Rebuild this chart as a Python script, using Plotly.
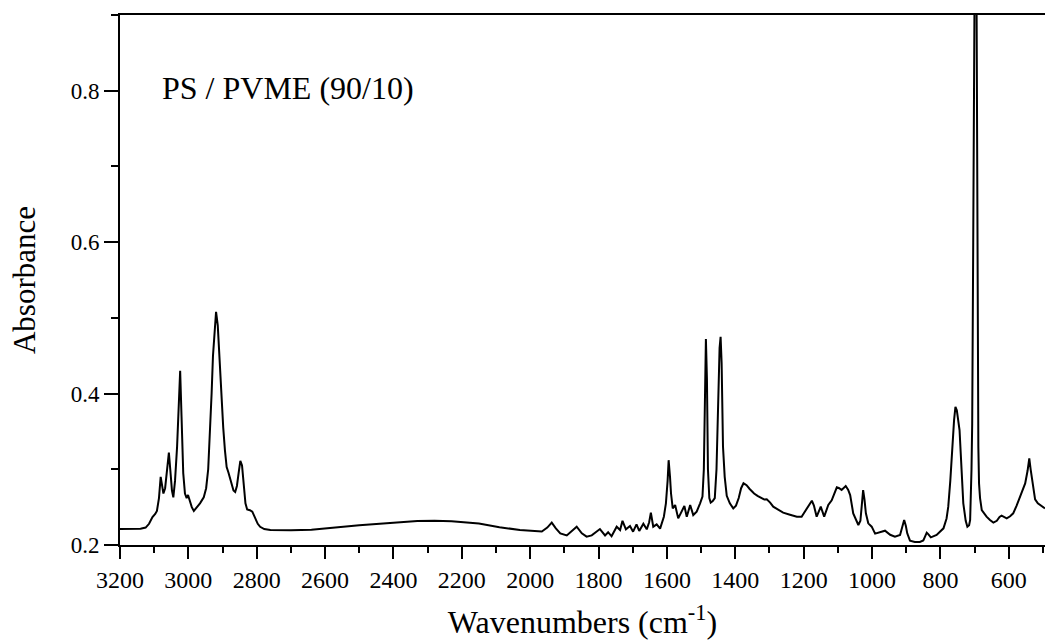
import plotly.graph_objects as go

# FTIR spectrum of a PS / PVME (90/10) blend
wavenumber = [
    3200, 3170, 3140, 3125, 3115, 3105, 3097, 3092, 3086, 3081,
    3077, 3073, 3068, 3062, 3057, 3053, 3048, 3044, 3039, 3033,
    3028, 3024, 3020, 3015, 3010, 3005, 3001, 2997, 2990, 2984,
    2975, 2966, 2955, 2948, 2942, 2937, 2932, 2928, 2923, 2919,
    2914, 2908, 2903, 2898, 2893, 2888, 2883, 2876, 2868, 2863,
    2858, 2853, 2848, 2843, 2838, 2833, 2828, 2820, 2813, 2805,
    2797, 2790, 2778, 2760, 2700, 2640, 2600, 2500, 2400, 2330,
    2280, 2230, 2150, 2090, 2030, 1990, 1966, 1950, 1937, 1925,
    1912, 1893, 1878, 1864, 1849, 1835, 1820, 1808, 1796, 1781,
    1772, 1762, 1747, 1737, 1730, 1720, 1708, 1699, 1689, 1681,
    1669, 1659, 1652, 1647, 1640, 1630, 1620, 1609, 1603, 1598,
    1595, 1591, 1588, 1583, 1576, 1567, 1557, 1549, 1542, 1532,
    1523, 1513, 1503, 1496, 1492, 1489, 1486, 1483, 1480, 1476,
    1472, 1466, 1460, 1455, 1450, 1446, 1443, 1440, 1436, 1431,
    1425, 1416, 1406, 1398, 1390, 1383, 1376, 1367, 1358, 1345,
    1335, 1325, 1315, 1308, 1298, 1289, 1275, 1260, 1240, 1220,
    1206, 1191, 1180, 1176, 1170, 1162, 1150, 1140, 1128, 1118,
    1103, 1096, 1089, 1077, 1070, 1064, 1055, 1045, 1040, 1034,
    1030, 1026, 1022, 1018, 1011, 1001, 991, 977, 962, 947,
    933, 918, 912, 906, 901, 897, 889, 875, 860, 850,
    845, 840, 835, 828, 811, 791, 782, 777, 771, 767,
    760, 756, 752, 744, 738, 733, 726, 721, 716, 713,
    709, 707, 704, 700, 697, 694, 691, 689, 687, 684,
    679, 672, 665, 655, 645, 635, 627, 621, 612, 606,
    596, 587, 577, 567, 558, 552, 545, 540, 536, 530,
    523, 515, 509, 494,
]
absorbance = [
    0.2210, 0.2212, 0.2215, 0.2230, 0.2280, 0.2370, 0.2410, 0.2450, 0.2620, 0.2900,
    0.2780, 0.2680, 0.2750, 0.3000, 0.3220, 0.3000, 0.2720, 0.2630, 0.2850, 0.3300,
    0.3850, 0.4300, 0.3700, 0.2950, 0.2680, 0.2620, 0.2660, 0.2600, 0.2500, 0.2450,
    0.2500, 0.2550, 0.2630, 0.2750, 0.3000, 0.3450, 0.4000, 0.4500, 0.4900, 0.5080,
    0.4900, 0.4350, 0.3900, 0.3550, 0.3250, 0.3030, 0.2960, 0.2850, 0.2720, 0.2700,
    0.2780, 0.2950, 0.3110, 0.3050, 0.2800, 0.2550, 0.2470, 0.2460, 0.2440, 0.2350,
    0.2280, 0.2240, 0.2210, 0.2198, 0.2195, 0.2203, 0.2220, 0.2260, 0.2295, 0.2318,
    0.2320, 0.2315, 0.2285, 0.2235, 0.2198, 0.2180, 0.2178, 0.2230, 0.2295, 0.2220,
    0.2154, 0.2127, 0.2180, 0.2242, 0.2154, 0.2110, 0.2127, 0.2170, 0.2211, 0.2127,
    0.2169, 0.2115, 0.2242, 0.2198, 0.2320, 0.2207, 0.2251, 0.2176, 0.2273, 0.2185,
    0.2280, 0.2207, 0.2300, 0.2427, 0.2242, 0.2273, 0.2216, 0.2374, 0.2550, 0.2850,
    0.3120, 0.2900, 0.2680, 0.2484, 0.2528, 0.2352, 0.2440, 0.2515, 0.2374, 0.2528,
    0.2396, 0.2440, 0.2550, 0.2640, 0.3000, 0.4000, 0.4720, 0.4200, 0.3000, 0.2620,
    0.2560, 0.2580, 0.2620, 0.3000, 0.4000, 0.4600, 0.4750, 0.4400, 0.3300, 0.2900,
    0.2650, 0.2550, 0.2484, 0.2520, 0.2620, 0.2750, 0.2815, 0.2790, 0.2740, 0.2680,
    0.2650, 0.2620, 0.2600, 0.2603, 0.2560, 0.2506, 0.2470, 0.2427, 0.2400, 0.2374,
    0.2374, 0.2484, 0.2560, 0.2585, 0.2520, 0.2374, 0.2506, 0.2374, 0.2528, 0.2590,
    0.2762, 0.2750, 0.2726, 0.2779, 0.2730, 0.2660, 0.2418, 0.2300, 0.2264, 0.2320,
    0.2550, 0.2726, 0.2600, 0.2418, 0.2286, 0.2242, 0.2150, 0.2170, 0.2189, 0.2135,
    0.2110, 0.2132, 0.2220, 0.2330, 0.2250, 0.2154, 0.2057, 0.2040, 0.2040, 0.2060,
    0.2110, 0.2163, 0.2140, 0.2101, 0.2132, 0.2220, 0.2350, 0.2506, 0.2850, 0.3166,
    0.3650, 0.3826, 0.3780, 0.3518, 0.3000, 0.2550, 0.2320, 0.2242, 0.2260, 0.2330,
    0.3000, 0.3600, 0.6000, 0.9500, 1.2000, 0.9000, 0.5000, 0.3300, 0.2814, 0.2620,
    0.2462, 0.2410, 0.2374, 0.2330, 0.2295, 0.2320, 0.2370, 0.2387, 0.2360, 0.2352,
    0.2380, 0.2418, 0.2520, 0.2638, 0.2740, 0.2814, 0.2980, 0.3145, 0.3000, 0.2814,
    0.2603, 0.2550, 0.2529, 0.2484,
]

x_tick_values = [3200, 3000, 2800, 2600, 2400, 2200, 2000, 1800, 1600, 1400, 1200, 1000, 800, 600]
y_tick_values = [0.2, 0.4, 0.6, 0.8]
sample_label = "PS / PVME (90/10)"

serif = "Liberation Serif, Times New Roman, serif"

fig = go.Figure(
    go.Scatter(
        x=wavenumber,
        y=absorbance,
        mode="lines",
        line=dict(color="black", width=2),
        showlegend=False,
        hoverinfo="skip",
    )
)

fig.update_layout(
    width=1045,
    height=640,
    autosize=False,
    margin=dict(l=120, r=0, t=15, b=95),
    paper_bgcolor="white",
    plot_bgcolor="white",
    font=dict(family=serif, color="black"),
    xaxis=dict(
        range=[3200, 494],
        tickmode="array",
        tickvals=x_tick_values,
        ticktext=[str(v) for v in x_tick_values],
        ticks="outside",
        ticklen=12,
        tickwidth=2,
        tickcolor="black",
        tickfont=dict(family=serif, size=24, color="black"),
        minor=dict(dtick=100, tick0=0, ticks="outside", ticklen=6, tickwidth=2, tickcolor="black"),
        showline=True,
        linecolor="black",
        linewidth=2,
        mirror=True,
        showgrid=False,
        zeroline=False,
        title=dict(
            text="Wavenumbers (cm<sup>-1</sup>)",
            font=dict(family=serif, size=32, color="black"),
            standoff=20,
        ),
    ),
    yaxis=dict(
        range=[0.2, 0.9],
        tickmode="array",
        tickvals=y_tick_values,
        ticktext=[f"{v:.1f}" for v in y_tick_values],
        ticks="outside",
        ticklen=14,
        tickwidth=2,
        tickcolor="black",
        tickfont=dict(family=serif, size=23, color="black"),
        minor=dict(dtick=0.1, tick0=0.0, ticks="outside", ticklen=7, tickwidth=2, tickcolor="black"),
        showline=True,
        linecolor="black",
        linewidth=2,
        mirror=False,
        showgrid=False,
        zeroline=False,
        title=dict(
            text="Absorbance",
            font=dict(family=serif, size=31, color="black"),
            standoff=26,
        ),
    ),
    annotations=[
        dict(
            text=sample_label,
            x=0.043,
            y=0.862,
            xref="paper",
            yref="paper",
            xanchor="left",
            yanchor="middle",
            showarrow=False,
            font=dict(family=serif, size=32, color="black"),
        )
    ],
)

fig.write_html("out.html", config={"displayModeBar": False})
